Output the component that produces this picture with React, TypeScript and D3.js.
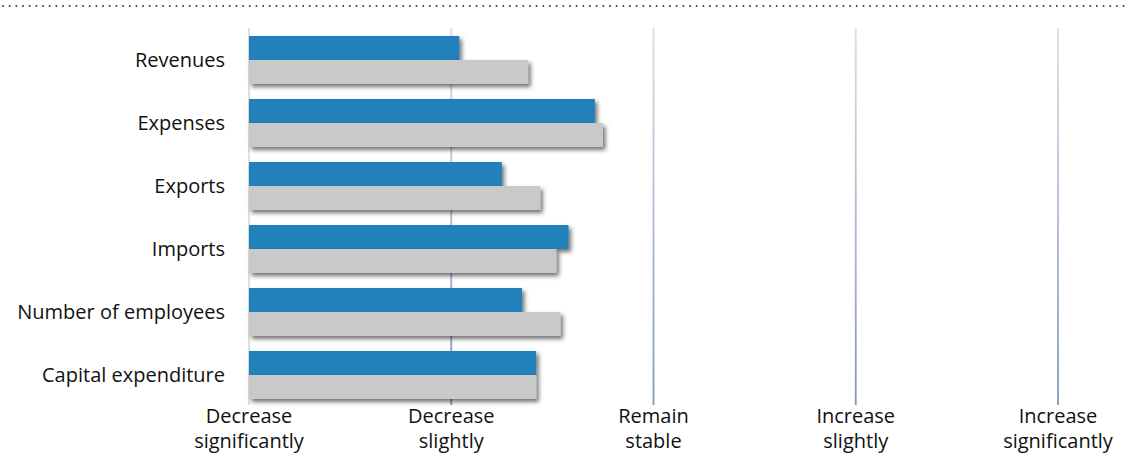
import React from "react";
import * as d3 from "d3";

// Survey answers, 1 = decrease significantly ... 5 = increase significantly
const categories = [
  "Revenues",
  "Expenses",
  "Exports",
  "Imports",
  "Number of employees",
  "Capital expenditure",
];
const seriesBlue = [2.04, 2.71, 2.25, 2.58, 2.35, 2.42];
const seriesGray = [2.38, 2.75, 2.44, 2.52, 2.54, 2.42];
const tickValues = [1, 2, 3, 4, 5];
const tickLabels = [
  ["Decrease", "significantly"],
  ["Decrease", "slightly"],
  ["Remain", "stable"],
  ["Increase", "slightly"],
  ["Increase", "significantly"],
];

const W = 1130;
const H = 457;
const FONT = "'Open Sans', sans-serif";

export default function App() {
  const x = d3.scaleLinear().domain([1, 5]).range([249, 1058]);
  const y = d3
    .scaleBand<string>()
    .domain(categories)
    .range([28.5, 406.5])
    .paddingInner(15 / 63)
    .paddingOuter(7.5 / 63);
  const bh = y.bandwidth() / 2;
  const gridTop = 28;
  const gridBottom = 405;

  return (
    <svg
      width={W}
      height={H}
      style={{ position: "absolute", left: 0, top: 0, display: "block" }}
      fontFamily={FONT}
    >
      <defs>
        <filter id="barShadow" x="-5%" y="-30%" width="115%" height="180%">
          <feDropShadow dx="2.5" dy="3" stdDeviation="2" floodColor="#000" floodOpacity="0.55" />
        </filter>
        <linearGradient id="gridGrad" gradientUnits="userSpaceOnUse" x1="0" y1={gridTop} x2="0" y2={gridBottom}>
          <stop offset="0" stopColor="#d8dfe9" />
          <stop offset="1" stopColor="#8397b4" />
        </linearGradient>
      </defs>

      {/* dotted rule along the top */}
      <line
        x1={3}
        x2={W - 2}
        y1={6}
        y2={6}
        stroke="#3b3b58"
        strokeWidth={2}
        strokeDasharray="0 6.67"
        strokeLinecap="round"
      />

      {/* vertical grid lines */}
      {tickValues.slice(1).map((v) => (
        <line
          key={v}
          x1={x(v)}
          x2={x(v)}
          y1={gridTop}
          y2={gridBottom}
          stroke="url(#gridGrad)"
          strokeWidth={1.8}
        />
      ))}
      {/* category axis */}
      <line x1={x(1)} x2={x(1)} y1={gridTop} y2={gridBottom} stroke="#d6d6d6" strokeWidth={1.5} />

      {/* bars */}
      {categories.map((c, i) => {
        const y0 = y(c) as number;
        return (
          <g key={c}>
            <rect
              x={x(1)}
              y={y0}
              width={x(seriesBlue[i]) - x(1)}
              height={bh}
              fill="#2380ba"
              filter="url(#barShadow)"
            />
            <rect
              x={x(1)}
              y={y0 + bh}
              width={x(seriesGray[i]) - x(1)}
              height={bh}
              fill="#c9c9c9"
              filter="url(#barShadow)"
            />
          </g>
        );
      })}

      {/* category labels */}
      {categories.map((c) => (
        <text
          key={c}
          x={225}
          y={(y(c) as number) + bh + 7}
          textAnchor="end"
          fontSize={20}
          fill="#111"
        >
          {c}
        </text>
      ))}

      {/* value axis labels */}
      {tickValues.map((v, i) => (
        <text key={v} x={x(v)} textAnchor="middle" fontSize={20} fill="#111">
          <tspan x={x(v)} y={423}>
            {tickLabels[i][0]}
          </tspan>
          <tspan x={x(v)} y={448}>
            {tickLabels[i][1]}
          </tspan>
        </text>
      ))}
    </svg>
  );
}
